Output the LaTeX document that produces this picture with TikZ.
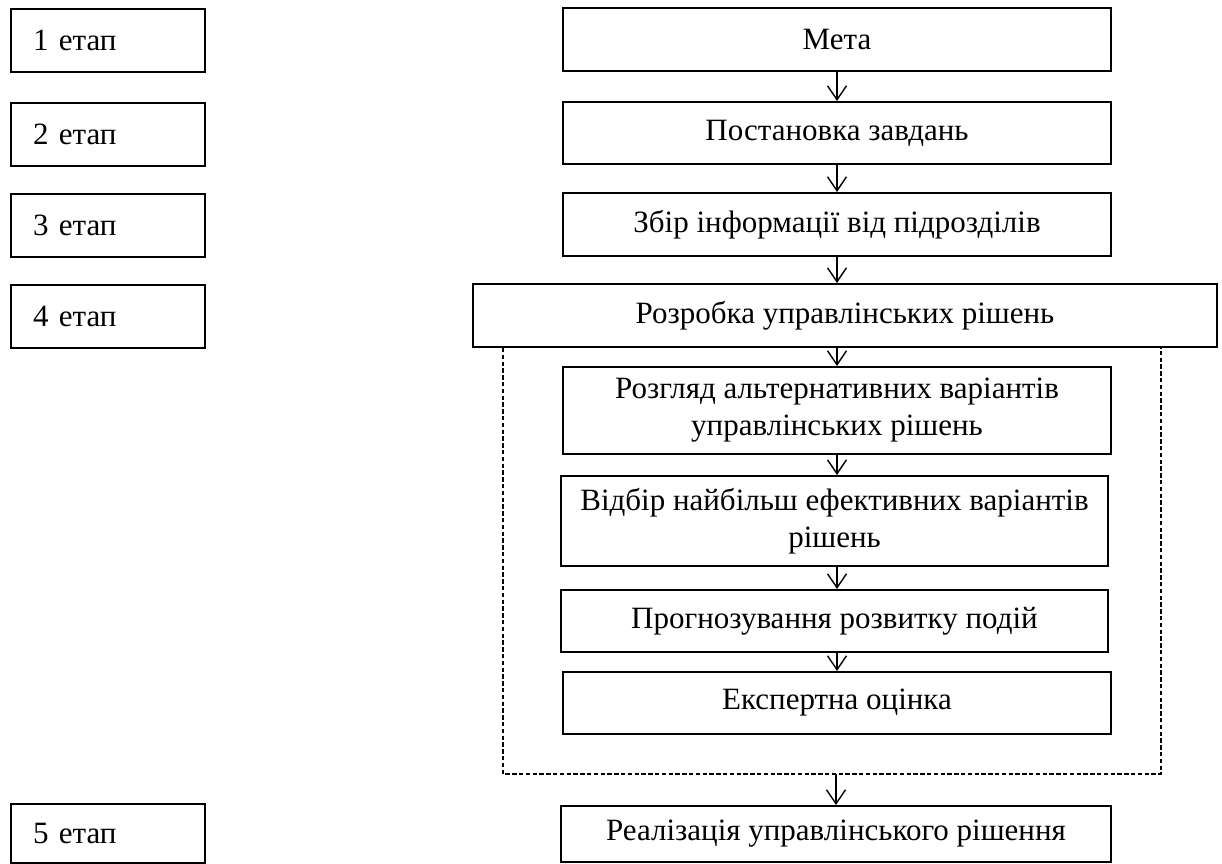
\documentclass[tikz,border=0pt]{standalone}
\usepackage{fontspec}
\setmainfont{Liberation Serif}
\usetikzlibrary{arrows.meta,positioning}

\tikzset{
  etap/.style={draw, line width=1pt, anchor=north west, minimum height=31.5pt,
    text width=75pt, inner xsep=11pt, inner ysep=0pt, align=left},
  krok/.style={draw, line width=1pt, inner sep=0pt, align=center,
    minimum width=274pt, minimum height=31.5pt},
  strilka/.style={-{Straight Barb[length=7pt,width=9.5pt]}, line width=0.7pt},
  ramka/.style={dash pattern=on 2.2pt off 1.2pt, line width=1pt}
}

\begin{document}
\begin{tikzpicture}[x=0.5pt, y=-0.5pt, font=\fontsize{15.5}{18.5}\selectfont]
  \useasboundingbox (0,0) rectangle (1222,863);

  % етапи
  \node[etap] (e1) at (10,8) {1 етап};
  \node[etap] (e2) at (10,102) {2 етап};
  \node[etap] (e3) at (10,193) {3 етап};
  \node[etap] (e4) at (10,284) {4 етап};
  \node[etap, minimum height=29.5pt] (e5) at (10,803) {5 етап};

  % кроки
  \node[krok] (meta) at (837,39.5) {Мета};
  \node[krok, minimum height=31pt] (post) at (837,133) {Постановка завдань};
  \node[krok] (zbir) at (837,224.5) {Збір інформації від підрозділів};
  \node[krok, minimum width=372pt] (rozr) at (845,315.5) {Розробка управлінських рішень};
  \node[krok, minimum height=43.5pt] (rozg) at (837,410.5) {Розгляд альтернативних варіантів\\управлінських рішень};
  \node[krok, minimum width=273.5pt, minimum height=45pt] (vidb) at (834.5,521) {Відбір найбільш ефективних варіантів\\рішень};
  \node[krok, minimum width=273.5pt, minimum height=31pt] (prog) at (834.5,621) {Прогнозування розвитку подій};
  \node[krok, minimum height=31pt] (eksp) at (837,703) {Експертна оцінка};
  \node[krok, minimum width=275pt, minimum height=28pt] (real) at (836,834) {Реалізація управлінського рішення};

  % рамка
  \coordinate (r1) at (503,774);
  \coordinate (r2) at (1161,774);
  \draw[ramka] (r1 |- rozr.south) -- (r1) -- (r2) -- (r2 |- rozr.south);

  % стрілки
  \draw[strilka] (meta.south) -- (meta.south |- post.north);
  \draw[strilka] (post.south) -- (post.south |- zbir.north);
  \draw[strilka] (zbir.south) -- (zbir.south |- rozr.north);
  \draw[strilka] (rozg.north |- rozr.south) -- (rozg.north);
  \draw[strilka] (rozg.south) -- (rozg.south |- vidb.north);
  \draw[strilka] (rozg.south |- vidb.south) -- (rozg.south |- prog.north);
  \draw[strilka] (rozg.south |- prog.south) -- (rozg.south |- eksp.north);
  \draw[strilka] (r1 -| real.north) -- (real.north);
\end{tikzpicture}
\end{document}
